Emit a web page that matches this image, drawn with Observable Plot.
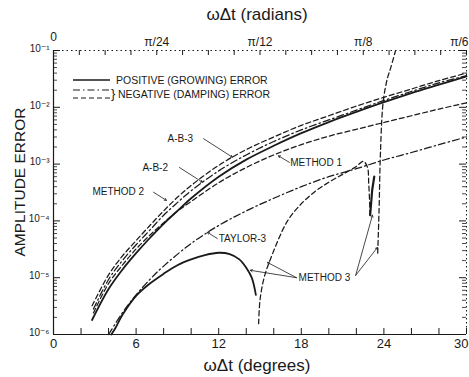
<!DOCTYPE html>
<html>
<head>
<meta charset="utf-8">
<script src="https://cdn.jsdelivr.net/npm/d3@7"></script>
<script src="https://cdn.jsdelivr.net/npm/@observablehq/plot@0.6"></script>
<style>
  html, body { margin: 0; padding: 0; background: #fff; }
  svg { display: block; }
</style>
</head>
<body>
<div id="chart"></div>
<script>
// ---------- data ----------
// x values are wΔt in degrees; y values are amplitude error
const method2X = [2.8, 4, 5, 6, 7, 8, 9, 10, 12, 14, 16, 18, 20, 22, 24, 26, 28, 30];
const method2Y = [3.2e-6, 1.12e-5, 2.4e-5, 4.5e-5, 8.3e-5, 1.5e-4, 2.6e-4, 4.2e-4, 9.5e-4, 1.8e-3, 3.0e-3, 4.8e-3, 7.1e-3, 1.05e-2, 1.5e-2, 2.1e-2, 2.95e-2, 4.0e-2];

const ab3X = [2.9, 4, 5, 6, 7, 8, 9, 10, 12, 14, 16, 18, 20, 22, 24, 26, 28, 30];
const ab3Y = [2.8e-6, 9.3e-6, 2.0e-5, 3.8e-5, 6.9e-5, 1.26e-4, 2.1e-4, 3.4e-4, 7.6e-4, 1.45e-3, 2.5e-3, 4.0e-3, 6.0e-3, 8.9e-3, 1.32e-2, 1.9e-2, 2.7e-2, 3.6e-2];

const ab2X = [2.8, 4, 5, 6, 7, 8, 9, 10, 12, 14, 16, 18, 20, 22, 24, 26, 28, 30];
const ab2Y = [1.8e-6, 6.3e-6, 1.38e-5, 2.7e-5, 5.0e-5, 8.9e-5, 1.5e-4, 2.5e-4, 6.0e-4, 1.2e-3, 2.1e-3, 3.5e-3, 5.5e-3, 8.3e-3, 1.23e-2, 1.78e-2, 2.5e-2, 3.5e-2];

const method1X = [2.9, 4, 5, 6, 7, 8, 9, 10, 12, 14, 16, 18, 20, 22, 24, 26, 28, 30];
const method1Y = [2.4e-6, 7.9e-6, 1.66e-5, 3.2e-5, 5.6e-5, 9.3e-5, 1.48e-4, 2.2e-4, 4.7e-4, 8.7e-4, 1.45e-3, 2.2e-3, 3.1e-3, 4.1e-3, 5.4e-3, 7.1e-3, 9.3e-3, 1.2e-2];

const taylor3X = [4, 5, 6, 7, 8, 10, 12, 14, 16, 18, 20, 22, 24, 26, 28, 30];
const taylor3Y = [1.0e-6, 2.4e-6, 5.0e-6, 9.3e-6, 1.6e-5, 4.0e-5, 8.3e-5, 1.5e-4, 2.5e-4, 4.0e-4, 6.0e-4, 8.3e-4, 1.18e-3, 1.6e-3, 2.2e-3, 3.0e-3];

// Method 3: positive hump (solid)
const m3aX = [4.2, 4.5, 5, 6, 7, 8, 9, 10, 11, 12, 12.8, 13.5, 14, 14.4, 14.7];
const m3aY = [1.0e-6, 1.3e-6, 2.2e-6, 4.8e-6, 7.9e-6, 1.17e-5, 1.66e-5, 2.1e-5, 2.5e-5, 2.75e-5, 2.6e-5, 2.1e-5, 1.5e-5, 1.0e-5, 5.0e-6];
// Method 3: negative branch (dashed) up to the turn near 23 deg
const m3bX = [14.9, 15.0, 15.3, 15.9, 17, 18, 19, 20, 21, 22, 22.5, 22.8, 22.9, 23.0];
const m3bY = [1.55e-6, 4.0e-6, 1.0e-5, 2.6e-5, 1.0e-4, 2.0e-4, 3.3e-4, 4.8e-4, 6.6e-4, 9.1e-4, 1.12e-3, 8.9e-4, 4.5e-4, 1.26e-4];
// Method 3: short positive piece (solid)
const m3cX = [23.0, 23.15, 23.3];
const m3cY = [1.26e-4, 3.5e-4, 6.0e-4];
// Method 3: steep negative piece (dashed)
const m3dX = [23.55, 23.65, 23.75, 23.95, 24.25, 24.5, 24.85];
const m3dY = [2.7e-5, 1.6e-4, 1.6e-3, 1.26e-2, 3.2e-2, 5.0e-2, 1.0e-1];

// tick labels
const degreeLabels = [0, 6, 12, 18, 24, 30];
const degreeTicks = [0, 2, 4, 6, 8, 10, 12, 14, 16, 18, 20, 22, 24, 26, 28, 30];
const radianTicks = [0, 7.5, 15, 22.5, 30];
const radianLabels = ["0", "π/24", "π/12", "π/8", "π/6"];
const decadeTicks = [1e-6, 1e-5, 1e-4, 1e-3, 1e-2, 1e-1];
const decadeLabels = ["10⁻⁶", "10⁻⁵", "10⁻⁴", "10⁻³", "10⁻²", "10⁻¹"];

// curve annotations (text at data positions)
const labelText = ["A-B-3", "A-B-2", "METHOD 2", "METHOD 1", "TAYLOR-3", "METHOD 3"];
const labelX = [8.28, 6.46, 2.83, 17.2, 12.0, 17.8];
const labelY = [2.8e-3, 8.7e-4, 3.2e-4, 1.07e-3, 4.9e-5, 1.0e-5];
// leader lines (from label to curve)
const leaderX1 = [10.9, 9.15, 7.26, 17.14, 11.9, 17.65, 17.65, 21.95, 21.95];
const leaderY1 = [2.8e-3, 8.7e-4, 3.2e-4, 1.07e-3, 4.9e-5, 1.0e-5, 1.0e-5, 1.1e-5, 1.1e-5];
const leaderX2 = [13.0, 10.82, 8.2, 16.34, 11.18, 14.3, 15.54, 23.17, 23.53];
const leaderY2 = [1.32e-3, 4.8e-4, 2.3e-4, 1.4e-3, 6.3e-5, 1.35e-5, 1.86e-5, 1.26e-4, 3.4e-5];

// ---------- build ----------
const W = 469, H = 377;
const mL = 53, mR = 3, mT = 50, mB = 43;
const plotW = W - mL - mR, plotH = H - mT - mB;
const INK = "#1a1a1a";
const FONT = "'Liberation Sans', 'DejaVu Sans', Arial, sans-serif";

const toRows = (xs, ys) => xs.map((x, i) => ({x, y: ys[i]}));
const minorTicks = [];
for (let e = -6; e < -1; e++) for (let m = 2; m <= 9; m++) minorTicks.push(m * Math.pow(10, e));
const topTicks = d3.range(0, 30.01, 1.875);

const solid = {strokeWidth: 1.8};
const dashed = {strokeWidth: 1.25, strokeDasharray: "5,3"};
const dashdot = {strokeWidth: 1.25, strokeDasharray: "7,3,1.5,3"};

const line = (xs, ys, style, curve = "catmull-rom") =>
  Plot.line(toRows(xs, ys), {x: "x", y: "y", stroke: INK, curve, ...style});

const leaders = leaderX1.map((x1, i) => ({x1, y1: leaderY1[i], x2: leaderX2[i], y2: leaderY2[i]}));
const labels = labelText.map((t, i) => ({t, x: labelX[i], y: labelY[i]}));
const yLabelRows = decadeTicks.map((v, i) => ({v, t: decadeLabels[i]}));
const xLabelRows = degreeLabels.map((v, i) => ({v, t: String(v), last: i === degreeLabels.length - 1}));
const radRows = radianTicks.map((v, i) => ({v, t: radianLabels[i], last: i === radianTicks.length - 1, first: i === 0}));

const chart = Plot.plot({
  width: W, height: H,
  marginLeft: mL, marginRight: mR, marginTop: mT, marginBottom: mB,
  x: {domain: [0, 30], axis: null},
  y: {type: "log", domain: [1e-6, 1e-1], axis: null},
  style: {fontFamily: FONT, background: "#fff", color: INK},
  marks: [
    // frame
    Plot.ruleX([0], {stroke: INK, strokeWidth: 1.2}),
    Plot.ruleY([1e-6], {stroke: INK, strokeWidth: 1.2}),
    Plot.ruleX([30], {stroke: INK, strokeWidth: 1, strokeDasharray: "1.5,2.5"}),
    Plot.ruleY([1e-1], {stroke: INK, strokeWidth: 1, strokeDasharray: "1.5,3"}),
    // bottom ticks (inward)
    Plot.tickX(degreeTicks, {x: d => d, stroke: INK, strokeWidth: 1, insetTop: plotH - 6}),
    // top ticks (inward)
    Plot.tickX(topTicks, {x: d => d, stroke: INK, strokeWidth: 1, insetBottom: plotH - 5}),
    // left ticks
    Plot.tickY(decadeTicks, {y: d => d, stroke: INK, strokeWidth: 1, insetRight: plotW - 7}),
    Plot.tickY(minorTicks, {y: d => d, stroke: INK, strokeWidth: 0.8, insetRight: plotW - 4}),
    // right ticks
    Plot.tickY(decadeTicks, {y: d => d, stroke: INK, strokeWidth: 1, insetLeft: plotW - 7}),
    Plot.tickY(minorTicks, {y: d => d, stroke: INK, strokeWidth: 0.8, insetLeft: plotW - 4}),
    // tick labels
    Plot.text(xLabelRows.filter(d => !d.last), {x: "v", text: "t", frameAnchor: "bottom", dy: 13, fontSize: 13, fill: INK}),
    Plot.text(xLabelRows.filter(d => d.last), {x: "v", text: "t", frameAnchor: "bottom", dy: 13, dx: 2, textAnchor: "end", fontSize: 13, fill: INK}),
    Plot.text(radRows.filter(d => !d.last && !d.first), {x: "v", text: "t", frameAnchor: "top", dy: -13, fontSize: 12, fill: INK}),
    Plot.text(radRows.filter(d => d.first), {x: "v", text: "t", frameAnchor: "top", dy: -18, fontSize: 12, fill: INK}),
    Plot.text(radRows.filter(d => d.last), {x: "v", text: "t", frameAnchor: "top", dy: -13, dx: 2, textAnchor: "end", fontSize: 12, fill: INK}),
    Plot.text(yLabelRows, {y: "v", text: "t", frameAnchor: "left", dx: -4, dy: -2, textAnchor: "end", fontSize: 10, fill: INK}),
    // curves
    line(method2X, method2Y, dashed),
    line(ab3X, ab3Y, dashdot),
    line(ab2X, ab2Y, solid),
    line(method1X, method1Y, dashed),
    line(taylor3X, taylor3Y, dashdot),
    line(m3aX, m3aY, solid),
    line(m3bX, m3bY, dashed),
    line(m3cX, m3cY, {strokeWidth: 2.2}, "linear"),
    line(m3dX, m3dY, dashed),
    // annotations
    Plot.arrow(leaders, {x1: "x1", y1: "y1", x2: "x2", y2: "y2", stroke: INK, strokeWidth: 0.8, headLength: 4, bend: 0}),
    Plot.text(labels, {x: "x", y: "y", text: "t", textAnchor: "start", fontSize: 10, fill: INK})
  ]
});

const svg = d3.select(chart);
const addText = (x, y, t, size, extra = {}) => {
  const el = svg.append("text").attr("x", x).attr("y", y).text(t)
    .attr("font-size", size).attr("fill", INK).attr("font-family", FONT)
    .attr("text-anchor", extra.anchor || "middle");
  if (extra.rotate) el.attr("transform", `rotate(-90 ${x} ${y})`);
  return el;
};
// titles
addText(257, 20, "ωΔt (radians)", 17);
addText(257, 371, "ωΔt (degrees)", 17);
addText(25, 182, "AMPLITUDE ERROR", 15.5, {rotate: true});

// legend
const lg = svg.append("g").attr("stroke", INK).attr("fill", "none");
lg.append("line").attr("x1", 73).attr("x2", 110).attr("y1", 80).attr("y2", 80).attr("stroke-width", 1.6);
lg.append("line").attr("x1", 73).attr("x2", 110).attr("y1", 90).attr("y2", 90).attr("stroke-width", 1.1).attr("stroke-dasharray", "7,3,1.5,3");
lg.append("line").attr("x1", 73).attr("x2", 110).attr("y1", 98).attr("y2", 98).attr("stroke-width", 1.1).attr("stroke-dasharray", "5,3");
addText(116, 84, "POSITIVE (GROWING) ERROR", 10.5, {anchor: "start"});
addText(111, 98, "}", 13, {anchor: "start"});
addText(118, 98, "NEGATIVE (DAMPING) ERROR", 10.5, {anchor: "start"});

document.getElementById("chart").appendChild(chart);
</script>
</body>
</html>
